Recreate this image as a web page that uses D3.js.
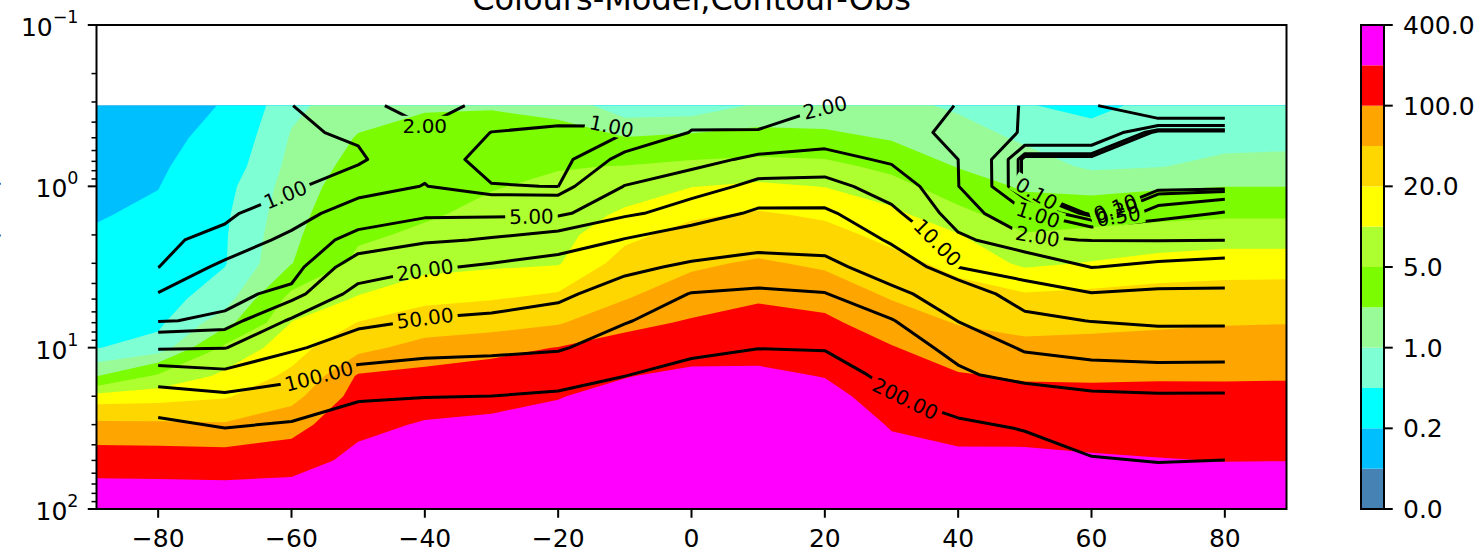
<!DOCTYPE html>
<html>
<head>
<meta charset="utf-8">
<style>
  body { margin: 0; background: #fff; }
  svg text { font-family: "DejaVu Sans", sans-serif; fill: #000; }
</style>
</head>
<body>
<svg id="chart" width="1484" height="554"></svg>
<script src="https://cdnjs.cloudflare.com/ajax/libs/d3/7.8.5/d3.min.js"></script>
<script>

// ---- data -------------------------------------------------------------
var titleText   = "Colours-Model,Contour-Obs";
var yLabelText  = "Pressure (hPa)";

// filled contour levels and their colours (model)
var levels      = [0, 0.1, 0.2, 0.5, 1, 2, 5, 10, 20, 50, 100, 200, 400];
var bandColors  = ["#4682b4", "#00bfff", "#00ffff", "#7fffd4", "#98fb98", "#7cfc00",
                   "#adff2f", "#ffff00", "#ffd700", "#ffa500", "#ff0000", "#ff00ff"];
var cbarTicks   = [0, 0.2, 1, 5, 20, 100, 400];

// line contour levels (obs)
var lineLevels  = [0.1, 0.2, 0.5, 1, 2, 5, 10, 20, 50, 100, 200];

var xTicks      = [-80, -60, -40, -20, 0, 20, 40, 60, 80];
var yTicks      = [0.1, 1, 10, 100];

// model grid: one column per latitude, values from top (0.316 hPa) to bottom (100 hPa)
var modelLat = [-89.25, -80, -70, -60, -50, -40, -30, -20, -10, 0, 10, 20, 30, 40, 50, 60, 70, 80, 89.25];
var modelP   = [0.316, 0.5, 0.75, 1, 1.5, 2, 3, 5, 7, 10, 15, 20, 30, 50, 70, 100];
var modelValues = [
  [0.13, 0.146, 0.162, 0.173, 0.19, 0.215, 0.266, 0.35, 0.41, 0.49, 1.95, 13, 61, 146, 222, 340],
  [0.14, 0.16, 0.18, 0.196, 0.23, 0.26, 0.31, 0.38, 0.44, 0.63, 5.8, 14.3, 59, 144, 218, 330],
  [0.21, 0.26, 0.32, 0.40, 0.45, 0.47, 0.48, 0.72, 1.5, 6.0, 11.5, 18.3, 55, 141, 214, 330],
  [0.85, 1.07, 1.23, 1.36, 1.55, 1.71, 1.95, 6.7, 10.2, 14.4, 23.5, 40, 77, 150, 226, 340],
  [1.5, 2.1, 2.6, 3.1, 3.8, 4.4, 6.1, 10.6, 20.5, 40, 108, 130, 171, 237, 296, 375],
  [1.9, 2.4, 3.1, 3.7, 4.6, 5.7, 7.9, 16.6, 32, 67, 122, 153, 211, 290, 340, 380],
  [1.9, 2.7, 3.8, 4.8, 6.0, 7.1, 8.8, 19.4, 36, 84, 132, 166, 225, 290, 340, 380],
  [1.6, 2.65, 4.8, 5.7, 6.9, 7.9, 9.5, 24, 47, 102, 150, 195, 240, 300, 345, 385],
  [0.65, 2.05, 5.1, 7.1, 11.3, 16.6, 27, 49, 85, 129, 195, 240, 290, 340, 370, 395],
  [0.65, 2.4, 6.1, 9.8, 17.9, 26, 44, 76, 107, 152, 230, 270, 320, 360, 380, 395],
  [1.1, 2.7, 6.8, 11.1, 22, 32, 55, 95, 125, 163, 225, 265, 315, 360, 380, 395],
  [1.1, 2.5, 6.3, 9.8, 17.9, 26, 44, 83, 114, 147, 196, 240, 290, 340, 370, 390],
  [1.2, 1.85, 4.0, 6.8, 11.9, 16, 26, 49, 72, 104, 130, 153, 192, 240, 290, 340],
  [0.9, 1.35, 1.9, 3.1, 6.4, 10.4, 15.7, 29, 48, 71, 106, 129, 172, 220, 260, 310],
  [0.52, 0.9, 1.35, 1.78, 3.25, 5.3, 8.8, 24, 39, 61, 94, 118, 159, 230, 270, 310],
  [0.42, 0.65, 0.9, 1.5, 3.7, 6.0, 10.4, 26, 42, 62, 93, 116, 153, 215, 250, 290],
  [0.6, 0.78, 0.97, 1.77, 4.25, 6.7, 12.6, 29, 45, 65, 95, 116, 150, 205, 240, 280],
  [0.6, 0.8, 1.2, 1.98, 4.6, 7.3, 14, 30, 48, 67, 95, 115, 147, 198, 235, 270],
  [0.62, 0.82, 1.25, 1.98, 4.6, 7.3, 14, 31, 49, 68, 96, 115, 147, 199, 235, 270]
];

// obs grid: one column per latitude, values from top (0.316 hPa) to bottom (100 hPa)
var obsLat = [-80, -70, -60, -50, -40, -30, -20, -10, 0, 10, 20, 30, 40, 50, 60, 70, 80];
var obsP   = [0.316, 0.464, 0.681, 1.0, 1.47, 2.15, 3.16, 4.64, 6.81, 10, 14.7, 21.5, 31.6, 46.4, 68.1, 100];
var obsValues = [
  [0.7, 0.7, 0.75, 0.8, 0.85, 0.9, 0.98, 2.05, 4.7, 17, 67, 140, 240, 300, 350, 380],
  [0.8, 0.82, 0.85, 0.88, 0.9, 1.15, 2.3, 3.8, 5.7, 19, 58, 121, 201, 280, 340, 380],
  [0.98, 0.9, 0.85, 0.9, 1.36, 2.36, 3.0, 6.2, 21.5, 44, 82, 141, 220, 290, 340, 380],
  [1.8, 1.1, 0.9, 1.39, 2.8, 6.4, 13.5, 24, 41, 70, 118, 199, 260, 310, 350, 380],
  [2.3, 1.9, 1.6, 2.05, 4.2, 8.9, 18.5, 31.6, 52, 81, 129, 212, 270, 320, 350, 380],
  [1.8, 0.98, 0.6, 1.05, 4.1, 10.6, 21.5, 35, 56, 85, 135, 216, 270, 320, 350, 380],
  [1.3, 0.9, 0.6, 0.98, 4.1, 13, 26, 43, 64, 92, 152, 230, 280, 330, 360, 390],
  [1.1, 0.97, 2.4, 5.1, 8.5, 20.6, 42, 66, 95, 138, 197, 250, 300, 340, 370, 395],
  [1.5, 2.05, 3.8, 7.0, 13.6, 28, 56, 102, 136, 180, 230, 270, 310, 350, 375, 395],
  [1.6, 2.05, 5.7, 11.7, 22, 37, 65, 110, 150, 198, 250, 290, 330, 360, 380, 395],
  [1.9, 3.3, 6.1, 12.1, 22, 36, 60, 102, 141, 195, 240, 280, 320, 350, 375, 395],
  [2.3, 3.0, 4.5, 7.2, 11.4, 17.7, 31.6, 59, 103, 135, 177, 215, 260, 300, 340, 370],
  [1.98, 1.39, 2.0, 2.02, 2.58, 6.0, 9.8, 31, 49, 80, 111, 160, 225, 270, 310, 350],
  [0.9, 0.95, 0, 0, 1.1, 2.2, 8.5, 11.5, 24.6, 45, 76, 150, 195, 240, 290, 340],
  [0.9, 0.95, 0, 0, 0, 1.95, 4.9, 10.2, 19.5, 35, 68, 120, 160, 198, 250, 300],
  [1.9, 0, 0, 0, 0.7, 1.9, 5.8, 11, 18, 28, 68, 114, 150, 185, 240, 300],
  [1.9, 0, 0, 0, 1.05, 1.95, 6.5, 11, 18, 28.5, 69, 114, 150, 190, 245, 300]
];

// where the inline contour labels sit (level, latitude, pressure)
var clabelAt = [
  {level: 1,   lat: -60, p: 1.4},
  {level: 2,   lat: -40, p: 0.45},
  {level: 1,   lat: -12, p: 0.46},
  {level: 2,   lat: 20,  p: 0.32},
  {level: 5,   lat: -24, p: 1.57},
  {level: 20,  lat: -40, p: 3.2},
  {level: 50,  lat: -40, p: 6.3},
  {level: 100, lat: -56, p: 14.4},
  {level: 10,  lat: 36,  p: 2.4},
  {level: 200, lat: 32,  p: 21},
  {level: 0.1, lat: 52,  p: 1.05},
  {level: 1,   lat: 52,  p: 1.5},
  {level: 2,   lat: 52,  p: 1.86},
  {level: 0.1, lat: 64,  p: 1.5},
  {level: 0.2, lat: 64,  p: 1.5},
  {level: 0.5, lat: 64,  p: 1.5}
];

// ---- layout -----------------------------------------------------------
var width  = 1484,
    height = 554,
    plotL  = 96.5, plotR = 1286.5, plotT = 25, plotB = 509,
    cbX    = 1361, cbW = 23,
    fontTick = 25, fontLabel = 20;

var svg = d3.select("#chart");

var x = d3.scaleLinear().domain([-89.25, 89.25]).range([plotL, plotR]);
var y = d3.scaleLog().domain([0.1, 100]).range([plotT, plotB]);

// contour grid coords -> pixels (grid value k sits at k + 0.5; clamp the half-cell border)
function gridMapper(lats, ps) {
  var lp = ps.map(Math.log10);
  function interp(arr, t) {
    t = Math.max(0, Math.min(arr.length - 1, t));
    var i = Math.min(Math.floor(t), arr.length - 2);
    return arr[i] + (arr[i + 1] - arr[i]) * (t - i);
  }
  return function(pt) {
    return [x(interp(lats, pt[0] - 0.5)), y(Math.pow(10, interp(lp, pt[1] - 0.5)))];
  };
}

function flatten(cols, fn) {
  var nx = cols.length, ny = cols[0].length, out = new Array(nx * ny);
  for (var i = 0; i < nx; i++)
    for (var j = 0; j < ny; j++) out[i + j * nx] = fn(cols[i][j]);
  return out;
}

// ---- filled model field ------------------------------------------------
var mNx = modelLat.length, mNy = modelP.length;
var mVals = flatten(modelValues, function(v) { return Math.log10(v); });
var mMap  = gridMapper(modelLat, modelP);
var mContours = d3.contours().size([mNx, mNy]);

var gFill = svg.append("g");
bandColors.forEach(function(c, k) {
  var thr = levels[k] > 0 ? Math.log10(levels[k]) : -99;
  var mp = mContours.contour(mVals, thr);
  var d = mp.coordinates.map(function(poly) {
    return poly.map(function(ring) {
      return "M" + ring.map(function(p) { return mMap(p).join(","); }).join("L") + "Z";
    }).join("");
  }).join("");
  if (d) gFill.append("path").attr("d", d).attr("fill", c).attr("fill-rule", "evenodd");
});

// ---- obs contour lines --------------------------------------------------
var oNx = obsLat.length, oNy = obsP.length;
var oVals = flatten(obsValues, function(v) { return v; });
var oMap  = gridMapper(obsLat, obsP);
var oContours = d3.contours().size([oNx, oNy]);

function isBorder(p) { return p[0] <= 0 || p[0] >= oNx || p[1] <= 0 || p[1] >= oNy; }

// cut the grid-border part out of each ring, keep the real contour polylines
function splitRing(ring) {
  var pts = ring.slice();
  var a = pts[0], b = pts[pts.length - 1];
  if (pts.length > 1 && a[0] === b[0] && a[1] === b[1]) pts.pop();
  var n = pts.length, start = -1;
  for (var k = 0; k < n; k++) if (isBorder(pts[k])) { start = k; break; }
  if (start < 0) { pts.push(pts[0]); return [pts]; }
  var out = [], cur = [];
  for (var s = 1; s <= n; s++) {
    var p = pts[(start + s) % n];
    if (isBorder(p)) { if (cur.length > 1) out.push(cur); cur = []; }
    else cur.push(p);
  }
  if (cur.length > 1) out.push(cur);
  return out;
}

var linesByLevel = {};
lineLevels.forEach(function(lv) {
  var mp = oContours.contour(oVals, lv), lines = [];
  mp.coordinates.forEach(function(poly) {
    poly.forEach(function(ring) {
      splitRing(ring).forEach(function(pl) { lines.push(pl.map(oMap)); });
    });
  });
  linesByLevel[lv] = lines;
});

// label placement on the nearest contour point
function arcLengths(pts) {
  var cum = [0];
  for (var k = 1; k < pts.length; k++)
    cum.push(cum[k - 1] + Math.hypot(pts[k][0] - pts[k - 1][0], pts[k][1] - pts[k - 1][1]));
  return cum;
}
function pointAt(pts, cum, s) {
  s = Math.max(0, Math.min(cum[cum.length - 1], s));
  for (var k = 1; k < pts.length; k++) {
    if (cum[k] >= s) {
      var seg = cum[k] - cum[k - 1], t = seg > 0 ? (s - cum[k - 1]) / seg : 0;
      return [pts[k - 1][0] + t * (pts[k][0] - pts[k - 1][0]), pts[k - 1][1] + t * (pts[k][1] - pts[k - 1][1])];
    }
  }
  return pts[pts.length - 1];
}

var fmt2 = d3.format(".2f");
var measure = svg.append("text").style("font-size", fontLabel + "px").attr("x", -999).attr("y", -999);

var labels = [];
clabelAt.forEach(function(spec) {
  var tx = x(spec.lat), ty = y(spec.p), best = null;
  (linesByLevel[spec.level] || []).forEach(function(pl) {
    var cum = arcLengths(pl);
    for (var k = 1; k < pl.length; k++) {
      var ax = pl[k - 1][0], ay = pl[k - 1][1], bx = pl[k][0], by = pl[k][1];
      var dx = bx - ax, dy = by - ay, L2 = dx * dx + dy * dy;
      var t = L2 > 0 ? Math.max(0, Math.min(1, ((tx - ax) * dx + (ty - ay) * dy) / L2)) : 0;
      var px = ax + t * dx, py = ay + t * dy, dd = Math.hypot(px - tx, py - ty);
      if (!best || dd < best.d) best = {d: dd, pl: pl, cum: cum, s: cum[k - 1] + t * Math.sqrt(L2), pt: [px, py]};
    }
  });
  if (!best) return;
  var txt = fmt2(spec.level);
  measure.text(txt);
  var w = measure.node().getComputedTextLength();
  var p0 = pointAt(best.pl, best.cum, best.s - w / 2), p1 = pointAt(best.pl, best.cum, best.s + w / 2);
  var ang = Math.atan2(p1[1] - p0[1], p1[0] - p0[0]) * 180 / Math.PI;
  if (ang > 90) ang -= 180;
  if (ang < -90) ang += 180;
  labels.push({text: txt, x: best.pt[0], y: best.pt[1], angle: ang, w: w});
});
measure.remove();

var defs = svg.append("defs");
var mask = defs.append("mask").attr("id", "labelMask")
  .attr("maskUnits", "userSpaceOnUse").attr("x", 0).attr("y", 0).attr("width", width).attr("height", height);
mask.append("rect").attr("width", width).attr("height", height).attr("fill", "#fff");
labels.forEach(function(l) {
  mask.append("rect")
    .attr("x", -l.w / 2 - 4).attr("y", -10).attr("width", l.w + 8).attr("height", 20)
    .attr("fill", "#000")
    .attr("transform", "translate(" + l.x + "," + l.y + ") rotate(" + l.angle + ")");
});

var gLines = svg.append("g").attr("mask", "url(#labelMask)");
lineLevels.forEach(function(lv) {
  linesByLevel[lv].forEach(function(pl) {
    gLines.append("path")
      .attr("d", "M" + pl.map(function(p) { return p.join(","); }).join("L"))
      .attr("fill", "none").attr("stroke", "#000").attr("stroke-width", 3)
      .attr("stroke-linejoin", "round");
  });
});

svg.append("g").selectAll("text").data(labels).enter().append("text")
  .attr("transform", function(l) { return "translate(" + l.x + "," + l.y + ") rotate(" + l.angle + ")"; })
  .attr("text-anchor", "middle").attr("dy", "0.36em")
  .style("font-size", fontLabel + "px")
  .text(function(l) { return l.text; });

// ---- axes ---------------------------------------------------------------
svg.append("rect")
  .attr("x", plotL).attr("y", plotT).attr("width", plotR - plotL).attr("height", plotB - plotT)
  .attr("fill", "none").attr("stroke", "#000").attr("stroke-width", 2);

var gx = svg.append("g");
xTicks.forEach(function(t) {
  gx.append("line").attr("x1", x(t)).attr("x2", x(t)).attr("y1", plotB).attr("y2", plotB + 8.75)
    .attr("stroke", "#000").attr("stroke-width", 2);
  gx.append("text").attr("x", x(t)).attr("y", 547).attr("text-anchor", "middle")
    .style("font-size", fontTick + "px")
    .text(t < 0 ? "\u2212" + Math.abs(t) : String(t));
});

var gy = svg.append("g");
var minor = [];
[0.1, 1, 10].forEach(function(dec) { for (var m = 2; m <= 9; m++) minor.push(dec * m); });
minor.forEach(function(v) {
  gy.append("line").attr("x1", plotL - 5).attr("x2", plotL).attr("y1", y(v)).attr("y2", y(v))
    .attr("stroke", "#000").attr("stroke-width", 1.5);
});
yTicks.forEach(function(v) {
  var e = Math.round(Math.log10(v));
  gy.append("line").attr("x1", plotL - 8.75).attr("x2", plotL).attr("y1", y(v)).attr("y2", y(v))
    .attr("stroke", "#000").attr("stroke-width", 2);
  var t = gy.append("text").attr("x", plotL - 18).attr("y", y(v) + 11).attr("text-anchor", "end")
    .style("font-size", fontTick + "px");
  t.append("tspan").text("10");
  t.append("tspan").attr("dy", -13).style("font-size", "17.5px").text(e < 0 ? "\u2212" + Math.abs(e) : String(e));
});

svg.append("text")
  .attr("transform", "translate(-3," + ((plotT + plotB) / 2) + ") rotate(-90)")
  .attr("text-anchor", "middle").style("font-size", fontTick + "px")
  .text(yLabelText);

svg.append("text").attr("x", (plotL + plotR) / 2).attr("y", 10).attr("text-anchor", "middle")
  .style("font-size", "32px").text(titleText);

// ---- colour bar -----------------------------------------------------------
var cbY = d3.scaleLinear().domain([0, bandColors.length]).range([plotB, plotT]);
var gcb = svg.append("g");
gcb.selectAll("rect.band").data(bandColors).enter().append("rect")
  .attr("x", cbX).attr("width", cbW)
  .attr("y", function(c, k) { return cbY(k + 1); })
  .attr("height", function(c, k) { return cbY(k) - cbY(k + 1); })
  .attr("fill", function(c) { return c; });
gcb.append("rect").attr("x", cbX).attr("y", plotT).attr("width", cbW).attr("height", plotB - plotT)
  .attr("fill", "none").attr("stroke", "#000").attr("stroke-width", 2);
var fmt1 = d3.format(".1f");
cbarTicks.forEach(function(v) {
  var yy = cbY(levels.indexOf(v));
  gcb.append("line").attr("x1", cbX + cbW).attr("x2", cbX + cbW + 8.75).attr("y1", yy).attr("y2", yy)
    .attr("stroke", "#000").attr("stroke-width", 2);
  gcb.append("text").attr("x", cbX + cbW + 19).attr("y", yy + 9).style("font-size", fontTick + "px").text(fmt1(v));
});

</script>
</body>
</html>
